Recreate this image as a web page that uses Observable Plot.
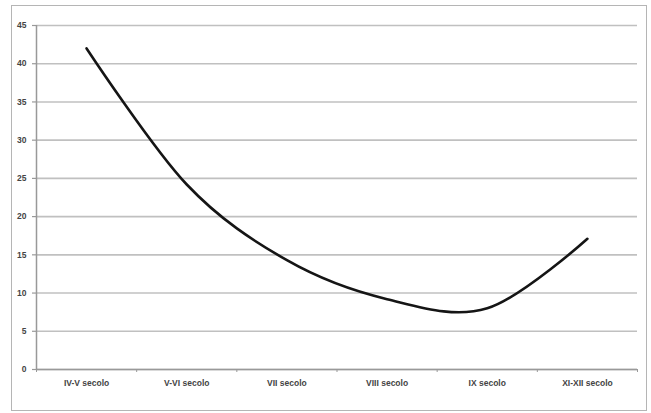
<!DOCTYPE html>
<html>
<head>
<meta charset="utf-8">
<script src="https://cdn.jsdelivr.net/npm/d3@7"></script>
<script src="https://cdn.jsdelivr.net/npm/@observablehq/plot@0.6"></script>
<style>
  html, body { margin: 0; padding: 0; background: #fff; }
  #wrap { position: relative; width: 651px; height: 413px; }
  #frame { position: absolute; left: 11px; top: 5px; width: 634px; height: 404px; border: 1px solid #b5b5b5; pointer-events: none; }
</style>
</head>
<body>
<div id="wrap"><div id="frame"></div></div>
<script>
const categories = ["IV-V secolo", "V-VI secolo", "VII secolo", "VIII secolo", "IX secolo", "XI-XII secolo"];
const values = [42, 24.2, 14.3, 9.2, 8, 17.1];
const yTicks = [0, 5, 10, 15, 20, 25, 30, 35, 40, 45];

const data = categories.map((c, i) => ({i, c, v: values[i]}));
const n = categories.length;
const boundaries = d3.range(-0.5, n, 1);

const plot = Plot.plot({
  width: 651,
  height: 413,
  marginLeft: 36,
  marginRight: 14,
  marginTop: 25,
  marginBottom: 44,
  style: {fontFamily: "Liberation Sans, Arial, sans-serif", fontSize: "8.5px", fontWeight: "bold", color: "#444", background: "transparent"},
  x: {type: "linear", domain: [-0.5, n - 0.5]},
  y: {domain: [0, 45]},
  marks: [
    Plot.gridY(yTicks, {stroke: "#c0c0c0", strokeOpacity: 1, strokeWidth: 1.6}),
    Plot.axisY({ticks: yTicks, tickSize: 4, tickPadding: 6, stroke: "#999", strokeWidth: 1.2, label: null, fill: "#444"}),
    Plot.axisX({ticks: boundaries, tickSize: 3, tickFormat: () => "", stroke: "#999", label: null}),
    Plot.axisX({ticks: d3.range(n), tickSize: 0, tickPadding: 10, tickFormat: i => categories[i], label: null, fill: "#444"}),
    Plot.ruleX([-0.5], {y1: 0, y2: 45, stroke: "#999", strokeWidth: 1.5}),
    Plot.ruleY([0], {stroke: "#999", strokeWidth: 1.5}),
    Plot.line(data, {x: "i", y: "v", curve: "cardinal", tension: 0, stroke: "#151515", strokeWidth: 2.6})
  ]
});
document.getElementById("wrap").prepend(plot);
</script>
</body>
</html>
